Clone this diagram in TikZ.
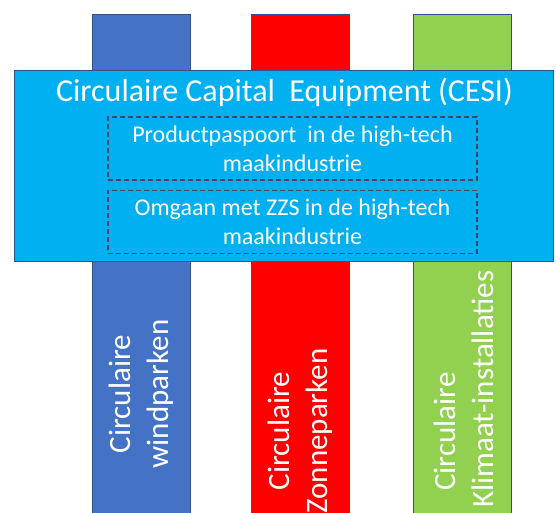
\documentclass[tikz,border=0pt]{standalone}
\usepackage{fontspec}
\setmainfont{Carlito}
\usepackage{xcolor}
\definecolor{pillar-blue}{HTML}{4472C4}
\definecolor{pillar-red}{HTML}{FF0000}
\definecolor{pillar-green}{HTML}{92D050}
\definecolor{cesi-fill}{HTML}{00B0F0}
\definecolor{outline}{HTML}{2F528F}
\definecolor{dash-line}{HTML}{3B4A6B}
\usetikzlibrary{positioning}

\begin{document}
\begin{tikzpicture}[
  x=1pt, y=-1pt,
  pillar/.style={
    rectangle,
    draw=outline,
    line width=0.8pt,
    minimum width=98pt,
    minimum height=605pt,
    inner sep=0pt
  },
  cesi/.style={
    rectangle,
    draw=outline,
    line width=1pt,
    fill=cesi-fill,
    minimum width=539pt,
    minimum height=191pt,
    inner sep=0pt
  },
  project/.style={
    rectangle,
    draw=dash-line,
    line width=1.3pt,
    dash pattern=on 5pt off 3pt,
    minimum width=369pt,
    minimum height=63pt,
    align=center,
    text=white,
    font=\fontsize{24}{29.3}\selectfont
  },
  pillartext/.style={
    rotate=90,
    align=center,
    text=white,
    font=\fontsize{31}{38}\selectfont
  }
]
\useasboundingbox (0,0) rectangle (556,513);
\clip (0,0) rectangle (556,513);

% Pillars
\node[pillar, fill=pillar-blue] (wind) at (141,317) {};
\node[pillar, fill=pillar-red] (zon) at (300,317) {};
\node[pillar, fill=pillar-green] (klimaat) at (462.5,317) {};

% Cross-cutting programme
\node[cesi] (cesibox) at (284.2,166.2) {};
\node[anchor=base, text=white, font=\fontsize{32}{39}\selectfont] (cesititle) at (284.5,102)
  {Circulaire Capital\ \ Equipment (CESI)};
\node[project] (paspoort) at (292.5,148.5) {Productpaspoort\ \ in de high-tech\\maakindustrie};
\node[project, below=9pt of paspoort] (zzs) {Omgaan met ZZS in de high-tech\\maakindustrie};

% Pillar labels
\node[pillartext] (windtext) at (141,394) {Circulaire\\windparken};
\node[pillartext] (zontext) at (300,431) {Circulaire\\Zonneparken};
\node[pillartext] (klimaattext) at (463.5,389) {Circulaire\hspace*{85pt}\\Klimaat-installaties};

\end{tikzpicture}
\end{document}
